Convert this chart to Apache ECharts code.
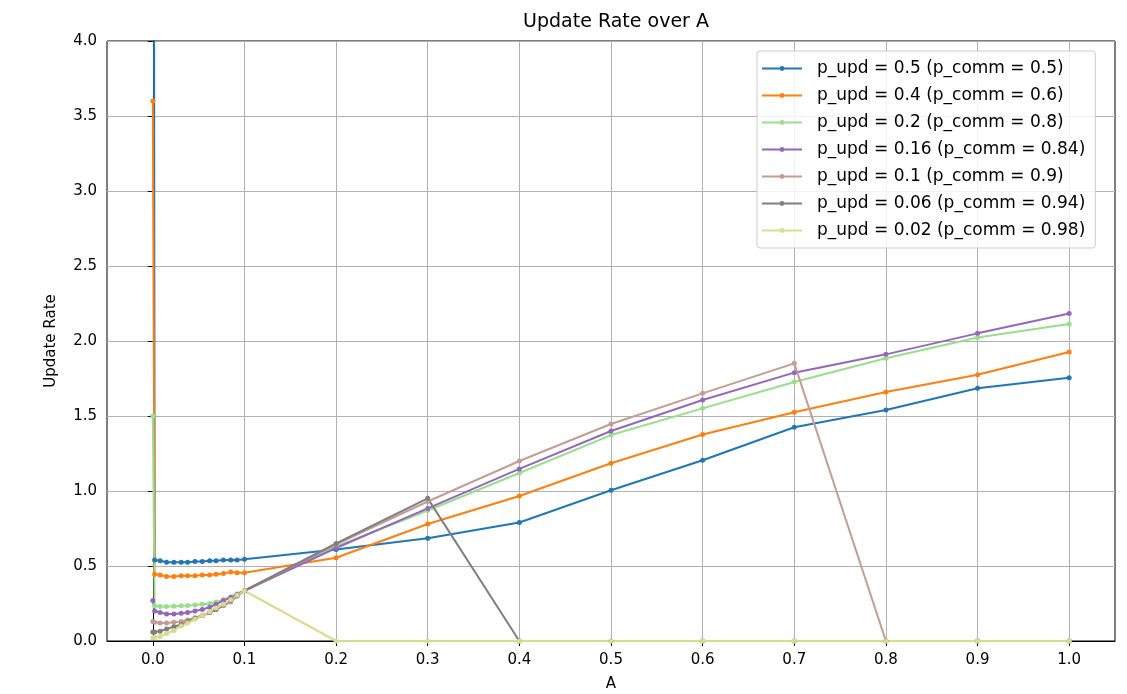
<!DOCTYPE html>
<html>
<head>
<meta charset="utf-8">
<title>Update Rate over A</title>
<script src="https://cdn.jsdelivr.net/npm/echarts@6/dist/echarts.min.js"></script>
<style>
html, body { margin: 0; padding: 0; background: #fff; }
#chart1 { width: 1127px; height: 694px; }
</style>
</head>
<body>
<div id="chart1"></div>
<script>
var aList = [0, 0.002, 0.008, 0.015, 0.023, 0.031, 0.038, 0.046, 0.054, 0.062, 0.069, 0.077, 0.085, 0.092, 0.1,
	0.2, 0.3, 0.4, 0.5, 0.6, 0.7, 0.8, 0.9, 1.0];
var rate05List = [12.0, 0.54, 0.535, 0.525, 0.525, 0.525, 0.525, 0.53, 0.53, 0.535, 0.535, 0.54, 0.54, 0.54, 0.545,
	0.61, 0.685, 0.79, 1.005, 1.205, 1.425, 1.54, 1.685, 1.755];
var rate04List = [3.6, 0.445, 0.44, 0.43, 0.43, 0.435, 0.435, 0.435, 0.44, 0.44, 0.445, 0.45, 0.46, 0.455, 0.455,
	0.555, 0.78, 0.967, 1.185, 1.377, 1.525, 1.66, 1.775, 1.927];
var rate02List = [1.5, 0.235, 0.23, 0.23, 0.232, 0.235, 0.237, 0.24, 0.245, 0.25, 0.26, 0.275, 0.295, 0.315, 0.335,
	0.63, 0.87, 1.12, 1.373, 1.551, 1.727, 1.885, 2.024, 2.113];
var rate016List = [0.27, 0.2, 0.19, 0.18, 0.18, 0.185, 0.19, 0.2, 0.21, 0.225, 0.245, 0.27, 0.29, 0.31, 0.335,
	0.62, 0.884, 1.147, 1.40, 1.607, 1.789, 1.911, 2.051, 2.184];
var rate01List = [0.13, 0.125, 0.12, 0.12, 0.125, 0.13, 0.14, 0.155, 0.17, 0.19, 0.21, 0.235, 0.26, 0.3, 0.335,
	0.645, 0.93, 1.2, 1.447, 1.651, 1.851, 0, 0, 0];
var rate006List = [0.06, 0.06, 0.065, 0.08, 0.095, 0.11, 0.13, 0.15, 0.17, 0.19, 0.21, 0.24, 0.27, 0.3, 0.335,
	0.65, 0.951, 0, 0, 0, 0, 0, 0, 0];
var rate002List = [0.02, 0.025, 0.03, 0.05, 0.07, 0.1, 0.12, 0.145, 0.17, 0.195, 0.22, 0.245, 0.275, 0.305, 0.335,
	0, 0, 0, 0, 0, 0, 0, 0, 0];
var xTickList = [0, 0.1, 0.2, 0.3, 0.4, 0.5, 0.6, 0.7, 0.8, 0.9, 1.0];
var legenderList = ['p_upd = 0.5 (p_comm = 0.5)', 'p_upd = 0.4 (p_comm = 0.6)', 'p_upd = 0.2 (p_comm = 0.8)',
	'p_upd = 0.16 (p_comm = 0.84)', 'p_upd = 0.1 (p_comm = 0.9)', 'p_upd = 0.06 (p_comm = 0.94)',
	'p_upd = 0.02 (p_comm = 0.98)'];
var colorList = ['#1f77b4', '#ff7f0e', '#98df8a', '#9467bd', '#c49c94', '#7f7f7f', '#dbdb8d'];

var fontName = '"DejaVu Sans", sans-serif';

function pairUp(values) {
	var out = [];
	for (var i = 0; i < aList.length; i++) {
		out.push([aList[i], values[i]]);
	}
	return out;
}

function makeSeries(idx, values) {
	return {
		name: legenderList[idx],
		type: 'line',
		data: pairUp(values),
		symbol: 'circle',
		symbolSize: 5,
		showAllSymbol: true,
		clip: true,
		lineStyle: { width: 2, color: colorList[idx] },
		itemStyle: { color: colorList[idx] },
		emphasis: { disabled: true }
	};
}

var chart = echarts.init(document.getElementById('chart1'));
chart.setOption({
	animation: false,
	title: {
		text: 'Update Rate over A',
		left: 611,
		textAlign: 'center',
		top: 8,
		textStyle: { fontFamily: fontName, fontSize: 19, fontWeight: 'normal', color: '#000' }
	},
	legend: {
		data: legenderList,
		orient: 'vertical',
		left: 757,
		top: 51,
		padding: [9, 10, 9, 4],
		itemWidth: 40,
		itemHeight: 6,
		itemGap: 10,
		backgroundColor: 'rgba(255,255,255,0.85)',
		borderColor: '#cccccc',
		borderWidth: 1,
		borderRadius: 3,
		textStyle: { fontFamily: fontName, fontSize: 17, color: '#000', padding: [0, 0, 0, 10] }
	},
	grid: {
		left: 107,
		right: 12,
		top: 41,
		bottom: 53,
		outerBoundsMode: 'none',
		show: true,
		borderColor: '#000',
		borderWidth: 1
	},
	xAxis: {
		type: 'value',
		min: -0.05,
		max: 1.05,
		name: 'A',
		nameLocation: 'middle',
		nameGap: 36,
		nameTextStyle: { fontFamily: fontName, fontSize: 15, color: '#000' },
		axisLine: { onZero: false, lineStyle: { color: '#000' } },
		axisTick: { show: true, length: 5, customValues: xTickList, lineStyle: { color: '#000' } },
		axisLabel: {
			customValues: xTickList,
			margin: 12,
			fontFamily: fontName,
			fontSize: 15,
			color: '#000',
			formatter: function(v) { return v.toFixed(1); }
		},
		splitLine: { show: true, lineStyle: { color: '#b0b0b0', width: 1 } }
	},
	yAxis: {
		type: 'value',
		min: 0,
		max: 4,
		interval: 0.5,
		name: 'Update Rate',
		nameLocation: 'middle',
		nameGap: 48,
		nameTextStyle: { fontFamily: fontName, fontSize: 15, color: '#000' },
		axisLine: { show: true, lineStyle: { color: '#000' } },
		axisTick: { show: true, length: 5, lineStyle: { color: '#000' } },
		axisLabel: {
			margin: 10,
			fontFamily: fontName,
			fontSize: 15,
			color: '#000',
			formatter: function(v) { return v.toFixed(1); }
		},
		splitLine: { show: true, lineStyle: { color: '#b0b0b0', width: 1 } }
	},
	series: [
		makeSeries(0, rate05List),
		makeSeries(1, rate04List),
		makeSeries(2, rate02List),
		makeSeries(3, rate016List),
		makeSeries(4, rate01List),
		makeSeries(5, rate006List),
		makeSeries(6, rate002List)
	]
});
</script>
</body>
</html>
